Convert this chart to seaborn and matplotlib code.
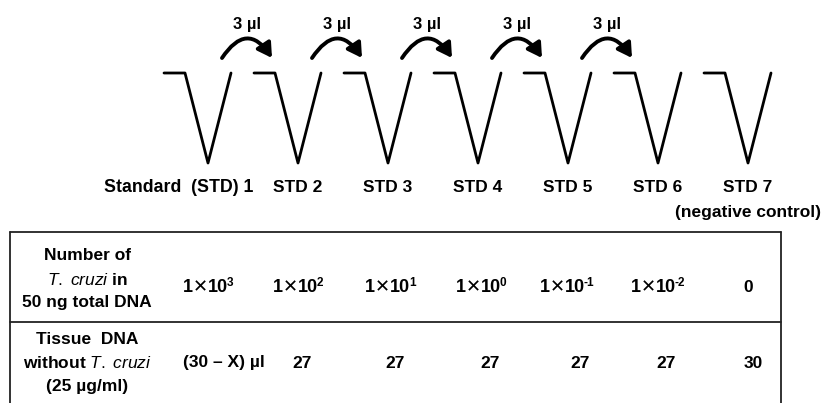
import pandas as pd
import matplotlib.pyplot as plt
import seaborn as sns
from matplotlib.patches import FancyArrowPatch

sns.set_theme(style="white")
plt.rcParams['font.family'] = ['Liberation Sans', 'DejaVu Sans']
plt.rcParams['text.color'] = 'black'
plt.rcParams['mathtext.fontset'] = 'custom'
plt.rcParams['mathtext.rm'] = 'Liberation Sans'
plt.rcParams['mathtext.it'] = 'Liberation Sans:italic'
plt.rcParams['mathtext.bf'] = 'Liberation Sans:bold'

# Diagram content
std_labels = ["Standard  (STD) 1", "STD 2", "STD 3", "STD 4", "STD 5", "STD 6", "STD 7"]
transfer_label = "3 \u00b5l"
n_transfers = 5
row1_header = ["Number of", r"$\mathit{T.\ cruzi}$ in", "50 ng total DNA"]
row1_exponents = ["3", "2", "1", "0", "-1", "-2", None]   # 1 x 10^n, None -> "0"
row2_header = ["Tissue  DNA", r"without $\mathit{T.\ cruzi}$", "(25 \u00b5g/ml)"]
row2_values = ["(30 \u2013 X) \u00b5l", "27", "27", "27", "27", "27", "30"]

# Layout (pixels)
well_x = [208 + 90 * i for i in range(len(std_labels))]
row1_x = [208, 298, 390, 481, 567, 658, 748]
row2_x = [224, 302, 395, 490, 580, 666, 753]

fig = plt.figure(figsize=(8.25, 4.03), dpi=100)
ax = fig.add_axes([0, 0, 1, 1])

# well outlines
pts = []
for i, cx in enumerate(well_x):
    for dx, y in [(-44, 73), (-23, 73), (0, 163), (23, 73)]:
        pts.append({"well": i, "x": cx + dx, "y": y})
wells = pd.DataFrame(pts)
sns.lineplot(data=wells, x="x", y="y", units="well", estimator=None, sort=False,
             color="black", lw=2, ax=ax, legend=False)

ax.set_xlim(0, 825)
ax.set_ylim(403, 0)
ax.axis("off")

# transfer arrows
for i in range(n_transfers):
    x0 = well_x[i] + 14
    x1 = well_x[i + 1] - 26
    arr = FancyArrowPatch((x0, 58), (x1, 58), connectionstyle="arc3,rad=-0.75",
                          arrowstyle="-|>,head_length=6,head_width=3.5",
                          lw=2.8, color="black", mutation_scale=1.4,
                          shrinkA=0, shrinkB=0)
    ax.add_patch(arr)
    ax.text((x0 + x1) / 2, 25, transfer_label, ha="center", va="center",
            fontsize=12, fontweight="bold")

# well labels
for i, (cx, lab) in enumerate(zip(well_x, std_labels)):
    if i == 0:
        ax.text(cx + 45, 188, lab, ha="right", va="center", fontsize=12.8, fontweight="bold")
    else:
        ax.text(cx, 188, lab, ha="center", va="center", fontsize=12.5, fontweight="bold")
ax.text(well_x[-1], 212, "(negative control)", ha="center", va="center",
        fontsize=12.5, fontweight="bold")

# table frame
lc = "#222222"
ax.plot([10, 781], [232, 232], color=lc, lw=1.3)
ax.plot([10, 781], [322, 322], color=lc, lw=1.3)
ax.plot([10, 10], [232, 403], color=lc, lw=1.3)
ax.plot([781, 781], [232, 403], color=lc, lw=1.3)

for y, line in zip([256, 280, 303], row1_header):
    ax.text(87, y, line, ha="center", va="center", fontsize=12.5, fontweight="bold")
for y, line in zip([339, 363, 387], row2_header):
    ax.text(87, y, line, ha="center", va="center", fontsize=12.5, fontweight="bold")

renderer = fig.canvas.get_renderer()


def pieces_text(xc, y, pieces):
    """Lay out text pieces side by side, centred on xc (axes units are pixels)."""
    objs = []
    for s, size, weight, dy, gap in pieces:
        t = ax.text(0, y + dy, s, ha="left", va="center", fontsize=size, fontweight=weight)
        objs.append((t, gap))
    widths = [t.get_window_extent(renderer).width for t, _ in objs]
    total = sum(widths) + sum(g for _, g in objs)
    x = xc - total / 2
    for (t, gap), w in zip(objs, widths):
        x += gap
        t.set_x(x)
        x += w


for x, e in zip(row1_x, row1_exponents):
    if e is None:
        ax.text(x, 288, "0", ha="center", va="center", fontsize=12.5, fontweight="bold")
    else:
        pieces_text(x, 288, [("1", 13, "bold", 0, 0),
                             ("\u2715", 13, "normal", 0, 0),
                             ("10", 13, "bold", 0, 0),
                             (e, 8.5, "bold", -5, -1)])
for x, v in zip(row2_x, row2_values):
    ax.text(x, 363, v, ha="center", va="center", fontsize=12.5, fontweight="bold")

fig.savefig("out.png", dpi=100)
